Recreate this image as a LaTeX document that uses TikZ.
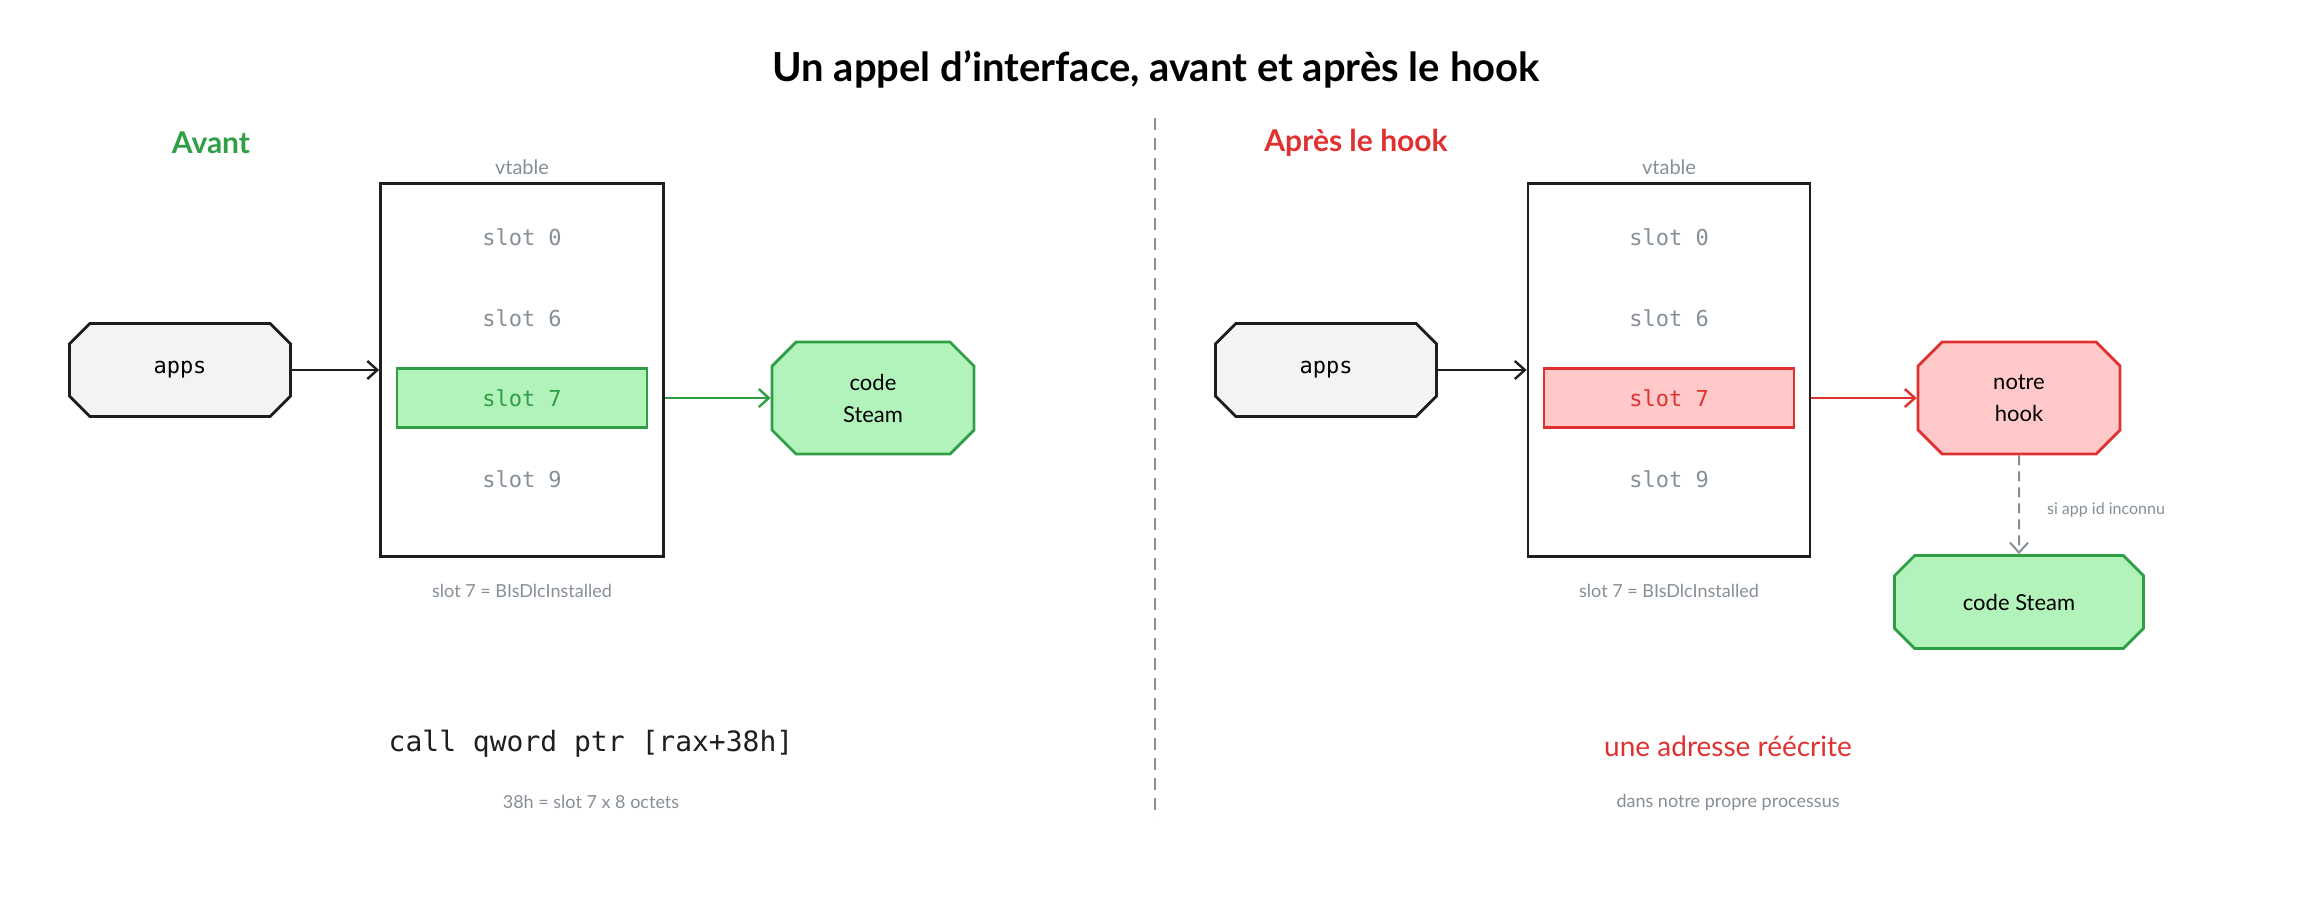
\documentclass[tikz,border=0pt]{standalone}
\usepackage{fontspec}
\setmainfont{Lato}
\setmonofont{DejaVu Sans Mono}
\usetikzlibrary{shapes.misc,arrows.meta}
\definecolor{okline}{HTML}{2F9E44}
\definecolor{okfill}{HTML}{B2F2BB}
\definecolor{koline}{HTML}{E03131}
\definecolor{kofill}{HTML}{FFC9C9}
\definecolor{greyfill}{HTML}{F1F3F5}
\definecolor{greytxt}{HTML}{868E96}
\definecolor{ink}{HTML}{1E1E1E}

\begin{document}
\begin{tikzpicture}[x=0.5pt,y=-0.5pt,
  box/.style={chamfered rectangle,chamfered rectangle xsep=6pt,chamfered rectangle ysep=6pt,line width=1.4pt,draw=ink,align=center,inner sep=0pt},
  slot/.style={font=\ttfamily\fontsize{11}{13}\selectfont,text=greytxt},
  note/.style={font=\fontsize{9}{11}\selectfont,text=greytxt},
  arr/.style={-{Straight Barb[length=5pt,width=9pt]},line width=1.2pt}]
\useasboundingbox (0,0) rectangle (2300,900);

% Title
\node (title) at (1156,69) {\fontsize{20}{24}\selectfont\bfseries Un appel d'interface, avant et après le hook};
% Divider
\draw [greytxt,line width=0.9pt,dash pattern={on 6pt off 4pt}] (1155,118) -- (1155,818);

%Left: Avant
\node [text=okline,font=\fontsize{15}{18}\selectfont\bfseries] (avant) at (211,143) {Avant};
\node [note,font=\fontsize{10}{12}\selectfont] (vtL) at (522,167) {vtable};
\node [box,minimum width=141.5pt,minimum height=186.5pt] (tabL) at (522,370) {};
\node [box,draw=okline,fill=okfill,minimum width=125pt,minimum height=29.5pt] (s7L) at (522,398) {};
\node [slot] (s0L) at (522,237) {slot 0};
\node [slot] (s6L) at (522,318) {slot 6};
\node [slot,text=okline] (s7Lt) at (522,398) {slot 7};
\node [slot] (s9L) at (522,479) {slot 9};
\node [box,fill=greyfill,minimum width=110.5pt,minimum height=46.5pt,font=\ttfamily\fontsize{11}{13}\selectfont] (appsL) at (180,370) {apps};
\node [box,draw=okline,fill=okfill,minimum width=101pt,minimum height=56pt,font=\fontsize{11}{16}\selectfont] (codeL) at (873,398) {code\\Steam};
\draw [arr,ink] (appsL.east) -- (appsL.east -| tabL.west);
\draw [arr,okline] (tabL.east |- s7L) -- (codeL.west);
\node [note] (capL) at (522,591) {slot 7 = BIsDlcInstalled};
\node [font=\ttfamily\fontsize{14}{17}\selectfont,text=ink] (asm) at (591,744) {call qword ptr [rax+38h]};
\node [note] (asmn) at (591,802) {38h = slot 7 x 8 octets};

%Right: Apres le hook
\node [text=koline,font=\fontsize{15}{18}\selectfont\bfseries] (apres) at (1356,143) {Après le hook};
\node [note,font=\fontsize{10}{12}\selectfont] (vtR) at (1669,167) {vtable};
\node [box,minimum width=141pt,minimum height=186.5pt] (tabR) at (1669,370) {};
\node [box,draw=koline,fill=kofill,minimum width=125pt,minimum height=29.5pt] (s7R) at (1669,398) {};
\node [slot] (s0R) at (1669,237) {slot 0};
\node [slot] (s6R) at (1669,318) {slot 6};
\node [slot,text=koline] (s7Rt) at (1669,398) {slot 7};
\node [slot] (s9R) at (1669,479) {slot 9};
\node [box,fill=greyfill,minimum width=110.5pt,minimum height=46.5pt,font=\ttfamily\fontsize{11}{13}\selectfont] (appsR) at (1326,370) {apps};
\node [box,draw=koline,fill=kofill,minimum width=101pt,minimum height=56pt,font=\fontsize{11}{16}\selectfont] (hook) at (2019,398) {notre\\hook};
\node [box,draw=okline,fill=okfill,minimum width=124.5pt,minimum height=46.5pt,font=\fontsize{11}{13}\selectfont] (codeR) at (2019,602) {code Steam};
\draw [arr,ink] (appsR.east) -- (appsR.east -| tabR.west);
\draw [arr,koline] (tabR.east |- s7R) -- (hook.west);
\draw [arr,greytxt,line width=1pt,dash pattern={on 5pt off 3pt}] (hook) -- (codeR);
\node [note,font=\fontsize{8}{10}\selectfont,anchor=west] (sinon) at (2040,510) {si app id inconnu};
\node [note] (capR) at (1669,591) {slot 7 = BIsDlcInstalled};
\node [text=koline,font=\fontsize{14}{17}\selectfont] (reecr) at (1728,746) {une adresse réécrite};
\node [note] (proc) at (1728,802) {dans notre propre processus};
\end{tikzpicture}
\end{document}
